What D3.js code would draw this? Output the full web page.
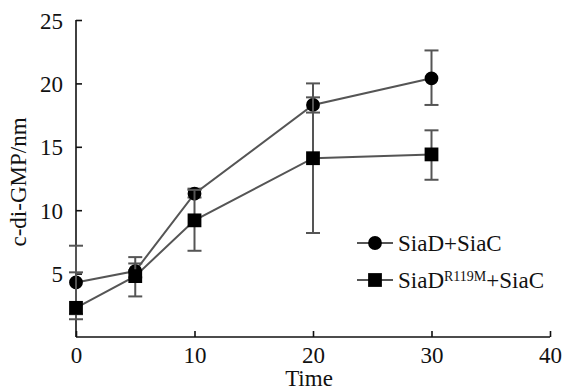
<!DOCTYPE html>
<html>
<head>
<meta charset="utf-8">
<script src="https://cdn.jsdelivr.net/npm/d3@7"></script>
<style>
  body { margin: 0; background: #fff; }
  svg text { font-family: "Times New Roman", "Liberation Serif", "DejaVu Serif", serif !important; fill: #111; }
</style>
</head>
<body>
<div id="chart"></div>
<script>
// time points (x) and values
var times = [0, 5, 10, 20, 30];
var siaD = [4.3, 5.2, 11.3, 18.3, 20.4];
var siaDLow = [1.8, 4.7, 11.0, 17.7, 18.3];
var siaDHigh = [5.1, 5.8, 11.7, 18.9, 22.6];
var mutant = [2.3, 4.8, 9.2, 14.1, 14.4];
var mutantLow = [1.4, 3.2, 6.8, 8.2, 12.4];
var mutantHigh = [7.2, 6.3, 11.6, 20.0, 16.3];
var xTicks = [0, 10, 20, 30, 40];
var yTicks = [5, 10, 15, 20, 25];

var width = 572, height = 392,
    margin = {top: 20, right: 22, bottom: 55, left: 76};

var svg = d3.select("#chart").append("svg")
    .attr("width", width)
    .attr("height", height);

var x = d3.scaleLinear().domain([0, 40]).range([margin.left, width - margin.right]);
var y = d3.scaleLinear().domain([0, 25]).range([height - margin.bottom, margin.top]);

var lineColor = "#555";

// y axis (ticks pointing inward)
var yAxis = svg.append("g")
    .attr("transform", "translate(" + margin.left + ",0)")
    .call(d3.axisRight(y).tickValues(yTicks).tickSize(6).tickSizeOuter(0));
yAxis.attr("font-family", null);
yAxis.select(".domain").attr("stroke", "#111").attr("stroke-width", 1.6)
    .attr("d", "M0," + y(0) + "V" + y(25));
yAxis.selectAll(".tick line").attr("stroke", "#111").attr("stroke-width", 1.6);
yAxis.selectAll(".tick text")
    .attr("x", -13)
    .attr("dy", "0.35em")
    .attr("text-anchor", "end")
    .style("font-size", "23px")
    .attr("fill", "#111");

// x axis (ticks pointing up)
var xAxis = svg.append("g")
    .attr("transform", "translate(0," + y(0) + ")")
    .call(d3.axisTop(x).tickValues(xTicks).tickSize(6).tickSizeOuter(0));
xAxis.attr("font-family", null);
xAxis.select(".domain").attr("stroke", "#111").attr("stroke-width", 1.6)
    .attr("d", "M" + x(0) + ",0H" + x(40));
xAxis.selectAll(".tick line").attr("stroke", "#111").attr("stroke-width", 1.6);
xAxis.selectAll(".tick text")
    .attr("y", 26)
    .attr("dy", 0)
    .style("font-size", "23px")
    .attr("fill", "#111");

// axis titles
svg.append("text")
    .attr("x", (x(0) + x(40)) / 2 - 4)
    .attr("y", 386)
    .attr("text-anchor", "middle")
    .style("font-size", "23px")
    .text("Time");

svg.append("text")
    .attr("transform", "translate(26,182) rotate(-90)")
    .attr("text-anchor", "middle")
    .style("font-size", "23px")
    .text("c-di-GMP/nm");

var series = [
  {name: "siaD", values: siaD, low: siaDLow, high: siaDHigh, shape: d3.symbolCircle, size: 150},
  {name: "mutant", values: mutant, low: mutantLow, high: mutantHigh, shape: d3.symbolSquare, size: 190}
];

var line = d3.line()
    .x(function(d) { return x(d[0]); })
    .y(function(d) { return y(d[1]); });

series.forEach(function(s) {
  var pts = times.map(function(t, i) { return [t, s.values[i], s.low[i], s.high[i]]; });
  var g = svg.append("g").attr("class", s.name);

  // error bars
  var eb = g.selectAll(".err").data(pts).enter().append("g").attr("class", "err")
      .attr("stroke", lineColor).attr("stroke-width", 2);
  eb.append("line")
      .attr("x1", function(d) { return x(d[0]); })
      .attr("x2", function(d) { return x(d[0]); })
      .attr("y1", function(d) { return y(d[2]); })
      .attr("y2", function(d) { return y(d[3]); });
  [2, 3].forEach(function(k) {
    eb.append("line")
        .attr("x1", function(d) { return x(d[0]) - 7; })
        .attr("x2", function(d) { return x(d[0]) + 7; })
        .attr("y1", function(d) { return y(d[k]); })
        .attr("y2", function(d) { return y(d[k]); });
  });

  g.append("path")
      .attr("d", line(pts))
      .attr("fill", "none")
      .attr("stroke", lineColor)
      .attr("stroke-width", 2);

  g.selectAll(".pt").data(pts).enter().append("path")
      .attr("class", "pt")
      .attr("transform", function(d) { return "translate(" + x(d[0]) + "," + y(d[1]) + ")"; })
      .attr("d", d3.symbol().type(s.shape).size(s.size))
      .attr("fill", "#000");
});

// legend
var legend = svg.append("g").attr("transform", "translate(357,243)");
series.forEach(function(s, i) {
  var row = legend.append("g").attr("transform", "translate(0," + (i * 37) + ")");
  row.append("line").attr("x1", 0).attr("x2", 36).attr("y1", 0).attr("y2", 0)
      .attr("stroke", lineColor).attr("stroke-width", 2);
  row.append("path").attr("transform", "translate(18,0)")
      .attr("d", d3.symbol().type(s.shape).size(s.size)).attr("fill", "#000");
  var t = row.append("text").attr("x", 41).attr("y", 8).style("font-size", "23px");
  if (i === 0) {
    t.text("SiaD+SiaC");
  } else {
    t.append("tspan").text("SiaD");
    t.append("tspan").attr("dy", -7).style("font-size", "14px").text("R119M");
    t.append("tspan").attr("dy", 7).text("+SiaC");
  }
});
</script>
</body>
</html>
